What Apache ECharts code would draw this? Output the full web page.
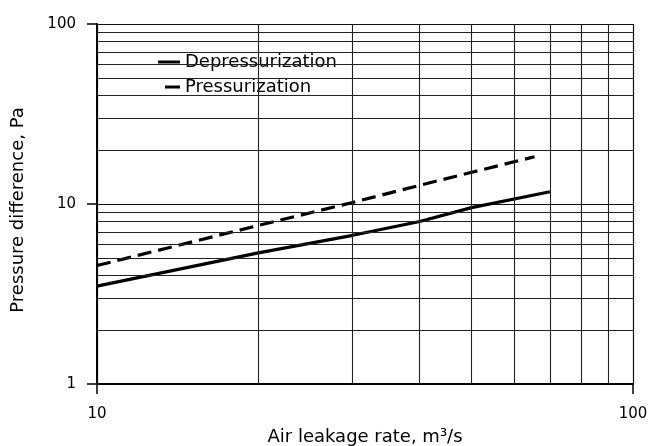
<!DOCTYPE html>
<html>
<head>
<meta charset="utf-8">
<title>Air leakage</title>
<script src="https://cdn.jsdelivr.net/npm/echarts@6/dist/echarts.min.js"></script>
<style>
    html, body { margin: 0; padding: 0; background: #fff; }
    #chart { width: 651px; height: 446px; }
</style>
</head>
<body>
<div id="chart"></div>
<script>
    // 读图得到的数据
    var depressX = [10, 20, 30, 40, 50, 70];
    var depressY = [3.5, 5.35, 6.7, 8.0, 9.55, 11.7];
    var pressX = [10, 20, 30, 40, 50, 65.5];
    var pressY = [4.55, 7.6, 10.2, 12.7, 15.0, 18.3];
    // 对数网格的次刻度线
    var xMinorGrid = [20, 30, 40, 50, 60, 70, 80, 90];
    var yMinorGrid = [2, 3, 4, 5, 6, 7, 8, 9, 20, 30, 40, 50, 60, 70, 80, 90];

    function pairs(xs, ys){
        var arr = [];
        xs.forEach(function(x, i){
            arr.push([x, ys[i]]);
        });
        return arr;
    }

    var gridMarks = [];
    xMinorGrid.forEach(function(v){ gridMarks.push({ xAxis: v }); });
    yMinorGrid.forEach(function(v){ gridMarks.push({ yAxis: v }); });

    var font = 'DejaVu Sans';
    var chart = echarts.init(document.getElementById('chart'));
    chart.setOption({
        animation: false,
        grid: {
            left: 97,
            right: 18,
            top: 24,
            bottom: 62,
            outerBoundsMode: 'none',
            containLabel: false
        },
        legend: {
            data: [
                { name: 'Depressurization', icon: 'rect' },
                // 短一点的图例线：左边留空
                { name: 'Pressurization', icon: 'path://M0,1.4h0.01v0.01h-0.01z M7,0h15v3h-15z' }
            ],
            orient: 'vertical',
            left: 155,
            top: 48,
            padding: [4, 4, 6, 3],
            itemWidth: 22,
            itemHeight: 3,
            itemGap: 5,
            backgroundColor: '#fff',
            textStyle: {
                fontFamily: font,
                fontSize: 18,
                lineHeight: 20,
                color: '#000'
            }
        },
        xAxis: {
            type: 'log',
            logBase: 10,
            min: 10,
            max: 100,
            name: 'Air leakage rate, m³/s',
            nameLocation: 'middle',
            nameGap: 44,
            nameTextStyle: {
                fontFamily: font,
                fontSize: 18,
                color: '#000'
            },
            axisLine: {
                show: true,
                lineStyle: { color: '#000', width: 2 }
            },
            axisTick: {
                show: true,
                length: 10,
                lineStyle: { color: '#000', width: 1.5 }
            },
            axisLabel: {
                margin: 23,
                fontFamily: font,
                fontSize: 15,
                color: '#000'
            },
            splitLine: {
                show: true,
                lineStyle: { color: '#111', width: 1.2 }
            }
        },
        yAxis: {
            type: 'log',
            logBase: 10,
            min: 1,
            max: 100,
            name: 'Pressure difference, Pa',
            nameLocation: 'middle',
            nameGap: 70,
            nameRotate: 90,
            nameTextStyle: {
                fontFamily: font,
                fontSize: 18,
                color: '#000',
                padding: [0, 12, 0, 0]
            },
            axisLine: {
                show: true,
                lineStyle: { color: '#000', width: 2 }
            },
            axisTick: {
                show: true,
                length: 10,
                lineStyle: { color: '#000', width: 1.5 }
            },
            axisLabel: {
                margin: 21,
                fontFamily: font,
                fontSize: 15,
                color: '#000'
            },
            splitLine: {
                show: true,
                lineStyle: { color: '#111', width: 1.2 }
            }
        },
        series: [{
            // 只用来画次网格线
            name: 'grid',
            type: 'line',
            data: [],
            silent: true,
            markLine: {
                silent: true,
                symbol: 'none',
                label: { show: false },
                lineStyle: { type: 'solid', color: '#222', width: 1.1 },
                emphasis: { disabled: true },
                data: gridMarks
            }
        }, {
            name: 'Depressurization',
            type: 'line',
            symbol: 'none',
            lineStyle: { color: '#000', width: 3.2 },
            itemStyle: { color: '#000' },
            data: pairs(depressX, depressY)
        }, {
            name: 'Pressurization',
            type: 'line',
            symbol: 'none',
            lineStyle: { color: '#000', width: 3.2, type: [14, 7] },
            itemStyle: { color: '#000' },
            data: pairs(pressX, pressY)
        }]
    });
</script>
</body>
</html>
